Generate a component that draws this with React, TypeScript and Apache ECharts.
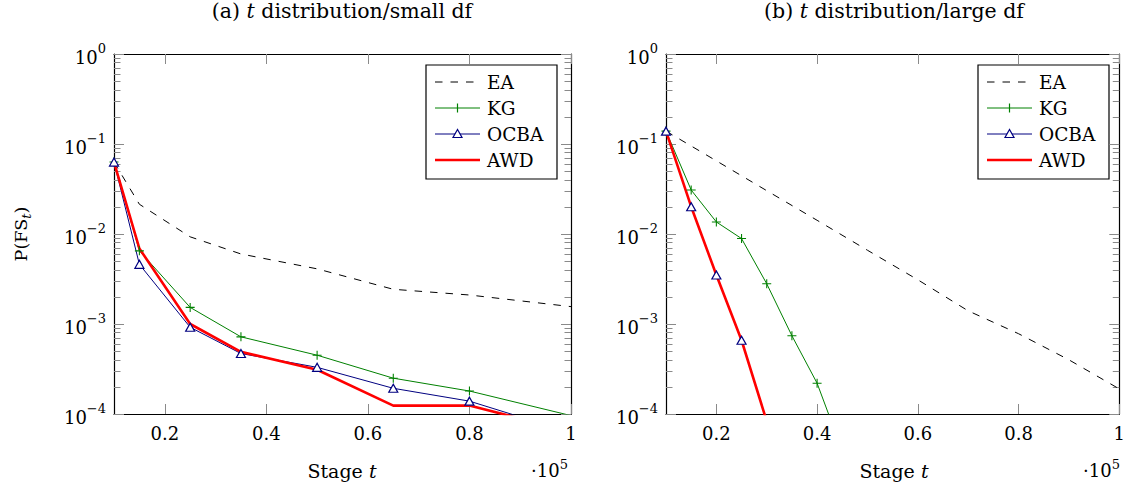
import React, { useEffect, useRef } from 'react';
import * as echarts from 'echarts';

const FONT = 'DejaVu Serif';

// ---- panel (a): t distribution / small df ----
const stagesA = [0.1, 0.15, 0.25, 0.35, 0.5, 0.65, 0.8, 1.0];
const eaA = [0.063, 0.0214, 0.0093, 0.006, 0.0041, 0.00243, 0.0021, 0.00156];
const kgA = [0.063, 0.0065, 0.00153, 0.00072, 0.00045, 0.00025, 0.00018, 0.000096];
const ocbaA = [0.063, 0.0046, 0.00092, 0.00047, 0.00033, 0.000193, 0.000139, 0.000062];
const awdA = [0.063, 0.0069, 0.001, 0.00049, 0.00031, 0.000124, 0.000124, 0.000064];

// ---- panel (b): t distribution / large df ----
const eaStagesB = [0.1, 0.2, 0.3, 0.4, 0.5, 0.6, 0.7, 0.8, 0.9, 1.0];
const eaB = [0.139, 0.065, 0.0303, 0.0142, 0.0066, 0.0031, 0.0014, 0.00078, 0.0004, 0.00019];
const kgStagesB = [0.1, 0.15, 0.2, 0.25, 0.3, 0.35, 0.4, 0.45];
const kgB = [0.139, 0.0308, 0.0136, 0.0089, 0.0028, 0.00074, 0.00022, 0.000039];
const ocbaStagesB = [0.1, 0.15, 0.2, 0.25, 0.3];
const ocbaB = [0.139, 0.0201, 0.0035, 0.00066, 0.000083];
const awdStagesB = [0.1, 0.15, 0.2, 0.25, 0.3];
const awdB = [0.139, 0.0201, 0.0035, 0.00066, 0.000083];

// ---- axes ----
const xTicks = [0.2, 0.4, 0.6, 0.8, 1];
const decades = [-4, -3, -2, -1];
const minorMultipliers = [2, 3, 4, 5, 6, 7, 8, 9];
const legendNames = ['EA', 'KG', 'OCBA', 'AWD'];
const titles = ['(a) {i|t} distribution/small df', '(b) {i|t} distribution/large df'];

const minorLogs: number[] = [];
decades.forEach((d) => minorMultipliers.forEach((m) => minorLogs.push(d + Math.log10(m))));

const GREEN = '#008000';
const NAVY = '#000080';
const RED = '#ff0000';
const TICK = '#8a8a8a';
const DASH = [7.5, 8];
const PLUS = 'path://M4.4,0H5.6V4.4H10V5.6H5.6V10H4.4V5.6H0V4.4H4.4Z';

const grids = [
  { left: 114, top: 54, width: 457, height: 360 },
  { left: 666, top: 54, width: 457, height: 360 },
];

function xAxesFor(g: number) {
  const base: any = {
    type: 'value',
    gridIndex: g,
    min: 0.1,
    max: 1,
    splitLine: { show: false },
    axisLine: { show: true, onZero: false, lineStyle: { color: '#000', width: 1.2 } },
    axisTick: { show: true, inside: true, length: 10, customValues: xTicks, lineStyle: { color: TICK, width: 1 } },
  };
  return [
    {
      ...base,
      position: 'bottom',
      axisLabel: {
        show: true,
        customValues: xTicks,
        margin: 10,
        color: '#000',
        fontFamily: FONT,
        fontSize: 18,
        formatter: (v: number) => String(v),
      },
    },
    { ...base, position: 'top', axisLabel: { show: false, customValues: xTicks } },
  ];
}

const rich = {
  b: { fontFamily: FONT, fontSize: 18, color: '#000', lineHeight: 24, verticalAlign: 'bottom' },
  s: { fontFamily: FONT, fontSize: 13, color: '#000', lineHeight: 10, verticalAlign: 'top' },
};

function yAxesFor(g: number) {
  const base: any = { type: 'value', gridIndex: g, min: -4, max: 0, splitLine: { show: false } };
  const frame = { show: true, onZero: false, lineStyle: { color: '#000', width: 1.2 } };
  const major = { show: true, inside: true, length: 10, lineStyle: { color: TICK, width: 1 } };
  const minor = { show: true, inside: true, length: 6.5, customValues: minorLogs, lineStyle: { color: TICK, width: 1 } };
  return [
    {
      ...base,
      position: 'left',
      interval: 1,
      axisLine: frame,
      axisTick: major,
      axisLabel: {
        show: true,
        margin: 8,
        formatter: (v: number) => '{b|10}{s|' + (v === 0 ? '0' : '\u2212' + Math.abs(Math.round(v))) + '}',
        rich,
      },
    },
    { ...base, position: 'left', axisLine: { show: false }, axisTick: minor, axisLabel: { show: false, customValues: minorLogs } },
    { ...base, position: 'right', interval: 1, axisLine: frame, axisTick: major, axisLabel: { show: false } },
    { ...base, position: 'right', axisLine: { show: false }, axisTick: minor, axisLabel: { show: false, customValues: minorLogs } },
  ];
}

const styles: Record<string, any> = {
  EA: { symbol: 'none', lineStyle: { color: '#000', width: 1, type: DASH }, itemStyle: { color: '#000' } },
  KG: { symbol: PLUS, symbolSize: 9, lineStyle: { color: GREEN, width: 1 }, itemStyle: { color: GREEN } },
  OCBA: {
    symbol: 'triangle',
    symbolSize: [9, 8],
    lineStyle: { color: NAVY, width: 1 },
    itemStyle: { color: '#ffffff', borderColor: NAVY, borderWidth: 1.2 },
  },
  AWD: { symbol: 'none', lineStyle: { color: RED, width: 2.6 }, itemStyle: { color: RED } },
};

function series(name: string, xs: number[], vs: number[], g: number) {
  return {
    type: 'line',
    name,
    xAxisIndex: g * 2,
    yAxisIndex: g * 4,
    data: xs.map((x, i) => [x, Math.log10(vs[i])]),
    clip: true,
    silent: true,
    emphasis: { disabled: true },
    ...styles[name],
  };
}

function legendGroup(x0: number, y0: number) {
  const children: any[] = [
    { type: 'rect', shape: { x: x0, y: y0, width: 131, height: 114 }, style: { fill: '#fff', stroke: '#000', lineWidth: 1.2 } },
  ];
  const rowY = [y0 + 17, y0 + 43, y0 + 69, y0 + 95];
  const lx0 = x0 + 9;
  const lx1 = x0 + 54;
  const cx = (lx0 + lx1) / 2;
  legendNames.forEach((name, i) => {
    const y = rowY[i];
    const st = styles[name];
    children.push({
      type: 'line',
      shape: { x1: lx0, y1: y, x2: lx1, y2: y },
      style: { stroke: st.lineStyle.color, lineWidth: st.lineStyle.width, lineDash: name === 'EA' ? DASH : null },
    });
    if (name === 'KG') {
      children.push({ type: 'line', shape: { x1: cx, y1: y - 4.5, x2: cx, y2: y + 4.5 }, style: { stroke: GREEN, lineWidth: 1.2 } });
    }
    if (name === 'OCBA') {
      children.push({
        type: 'polygon',
        shape: { points: [[cx, y - 4.5], [cx - 4.5, y + 3.5], [cx + 4.5, y + 3.5]] },
        style: { fill: '#fff', stroke: NAVY, lineWidth: 1.2 },
      });
    }
    children.push({
      type: 'text',
      x: x0 + 61,
      y,
      style: { text: name, fontFamily: FONT, fontSize: 18.5, fill: '#000', textVerticalAlign: 'middle', textAlign: 'left' },
    });
  });
  return { type: 'group', children };
}

function textEl(x: number, y: number, text: string, size: number, align = 'center', extra: any = {}) {
  return {
    type: 'text',
    x,
    y,
    ...extra,
    style: {
      text,
      fontFamily: FONT,
      fontSize: size,
      fill: '#000',
      textAlign: align,
      textVerticalAlign: 'middle',
      rich: {
        i: { fontFamily: FONT, fontSize: size, fontStyle: 'italic', fill: '#000' },
        s: { fontFamily: FONT, fontSize: 13, lineHeight: 10, verticalAlign: 'top' },
        sub: { fontFamily: FONT, fontSize: 13, fontStyle: 'italic', lineHeight: 15, verticalAlign: 'bottom' },
        n: { fontFamily: FONT, fontSize: size, lineHeight: 24, verticalAlign: 'middle' },
      },
    },
  };
}

export default function App() {
  const ref = useRef<HTMLDivElement>(null);
  useEffect(() => {
    if (!ref.current) return;
    const chart = echarts.init(ref.current, null, { renderer: 'svg' });
    const option: any = {
      animation: false,
      backgroundColor: '#fff',
      textStyle: { fontFamily: FONT },
      grid: grids,
      xAxis: [...xAxesFor(0), ...xAxesFor(1)],
      yAxis: [...yAxesFor(0), ...yAxesFor(1)],
      series: [
        series('EA', stagesA, eaA, 0),
        series('KG', stagesA, kgA, 0),
        series('OCBA', stagesA, ocbaA, 0),
        series('AWD', stagesA, awdA, 0),
        series('EA', eaStagesB, eaB, 1),
        series('KG', kgStagesB, kgB, 1),
        series('OCBA', ocbaStagesB, ocbaB, 1),
        series('AWD', awdStagesB, awdB, 1),
      ],
      graphic: [
        textEl(342, 11, titles[0], 20.5),
        textEl(894, 11, titles[1], 20.5),
        textEl(342, 471, 'Stage {i|t}', 19),
        textEl(894, 471, 'Stage {i|t}', 19),
        textEl(568, 470, '{n|\u00b710}{s|5}', 18, 'right'),
        textEl(1120, 470, '{n|\u00b710}{s|5}', 18, 'right'),
        textEl(21, 234, '{n|P(FS}{sub|t}{n|)}', 17.5, 'center', { rotation: Math.PI / 2 }),
        legendGroup(426, 65),
        legendGroup(978, 65),
      ],
    };
    chart.setOption(option);
    return () => chart.dispose();
  }, []);
  return <div ref={ref} style={{ position: 'fixed', left: 0, top: 0, width: 1128, height: 486 }} />;
}
